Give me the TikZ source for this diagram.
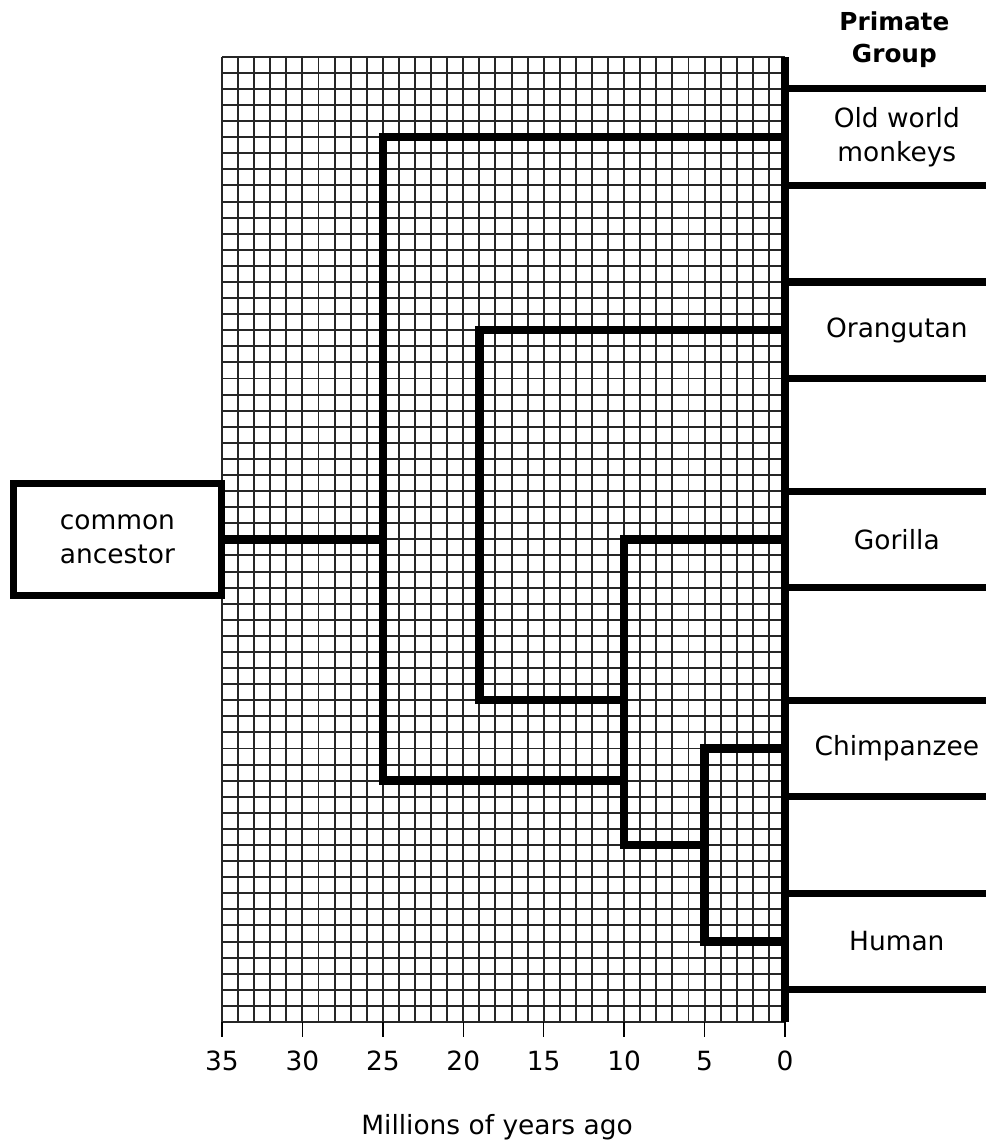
\documentclass[tikz,border=0pt]{standalone}
\usepackage{fontspec}
\setmainfont{DejaVu Sans}
\usepackage{tikz}
\usetikzlibrary{positioning}
\definecolor{gridgray}{HTML}{262626}

\begin{document}
\begin{tikzpicture}[x=0.4cm, y=0.4cm, font=\fontsize{18.7}{24.5}\selectfont,
    branch/.style={line width=6pt, line join=miter, line cap=rect},
    grouprule/.style={line width=5pt},
    grouplabel/.style={align=center, inner sep=0pt}]
  \useasboundingbox (-48.8,-7.71) rectangle (12.5,63.53);

  % Rasterpapier
  \draw[gridgray, line width=1.4pt, step=1] (-35,0) grid (0,60);

  % Zeitskala
  \foreach \t in {35,30,...,0} {
    \draw[line width=1pt] (-\t,0) -- (-\t,-0.93);
    \node (tick\t) at (-\t,-2.43) {\t};
  }
  \node[anchor=base] (xlab) at (-17.9,-7.02) {Millions of years ago};

  % Gruppenfelder rechts
  \foreach \y in {58,52,46,40,33,27,20,14,8,2}
    \draw[grouprule] (0,\y) -- (12.5,\y);
  \draw[line width=6pt] (0,0) -- (0,60);

  \node[grouplabel, font=\fontsize{17.5}{23}\selectfont\bfseries] (head) at (6.8,61.05) {Primate\\Group};
  \node[grouplabel] (owm) at (6.95,55) {Old world\\monkeys};
  \node[grouplabel] (ora) at (6.95,43) {Orangutan};
  \node[grouplabel] (gor) at (6.95,30) {Gorilla};
  \node[grouplabel] (chi) at (6.95,17) {Chimpanzee};
  \node[grouplabel] (hum) at (6.95,5) {Human};

  % Enden der Aeste an der Achse
  \coordinate (tip-owm) at (0,55);
  \coordinate (tip-ora) at (0,43);
  \coordinate (tip-gor) at (0,30);
  \coordinate (tip-chi) at (0,17);
  \coordinate (tip-hum) at (0,5);

  % Knicke des Stammbaums
  \coordinate (j25) at (-25,15);
  \coordinate (j19) at (-19,20);
  \coordinate (j10) at (-10,11);
  \coordinate (j5) at (-5,5);

  % Vorfahr
  \node[draw, line width=5pt, minimum width=5.17cm, minimum height=2.78cm, align=center] (anc) at (-41.5,30) {common\\ancestor};

  % Stammbaum
  \draw[branch] (anc) -- (anc -| j25);
  \draw[branch] (tip-owm) -| (j25) -- (j25 -| j10);
  \draw[branch] (tip-ora) -| (j19) -- (j19 -| j10);
  \draw[branch] (tip-gor) -| (j10) -- (j10 -| j5);
  \draw[branch] (tip-chi) -| (j5) -- (tip-hum);
\end{tikzpicture}
\end{document}
